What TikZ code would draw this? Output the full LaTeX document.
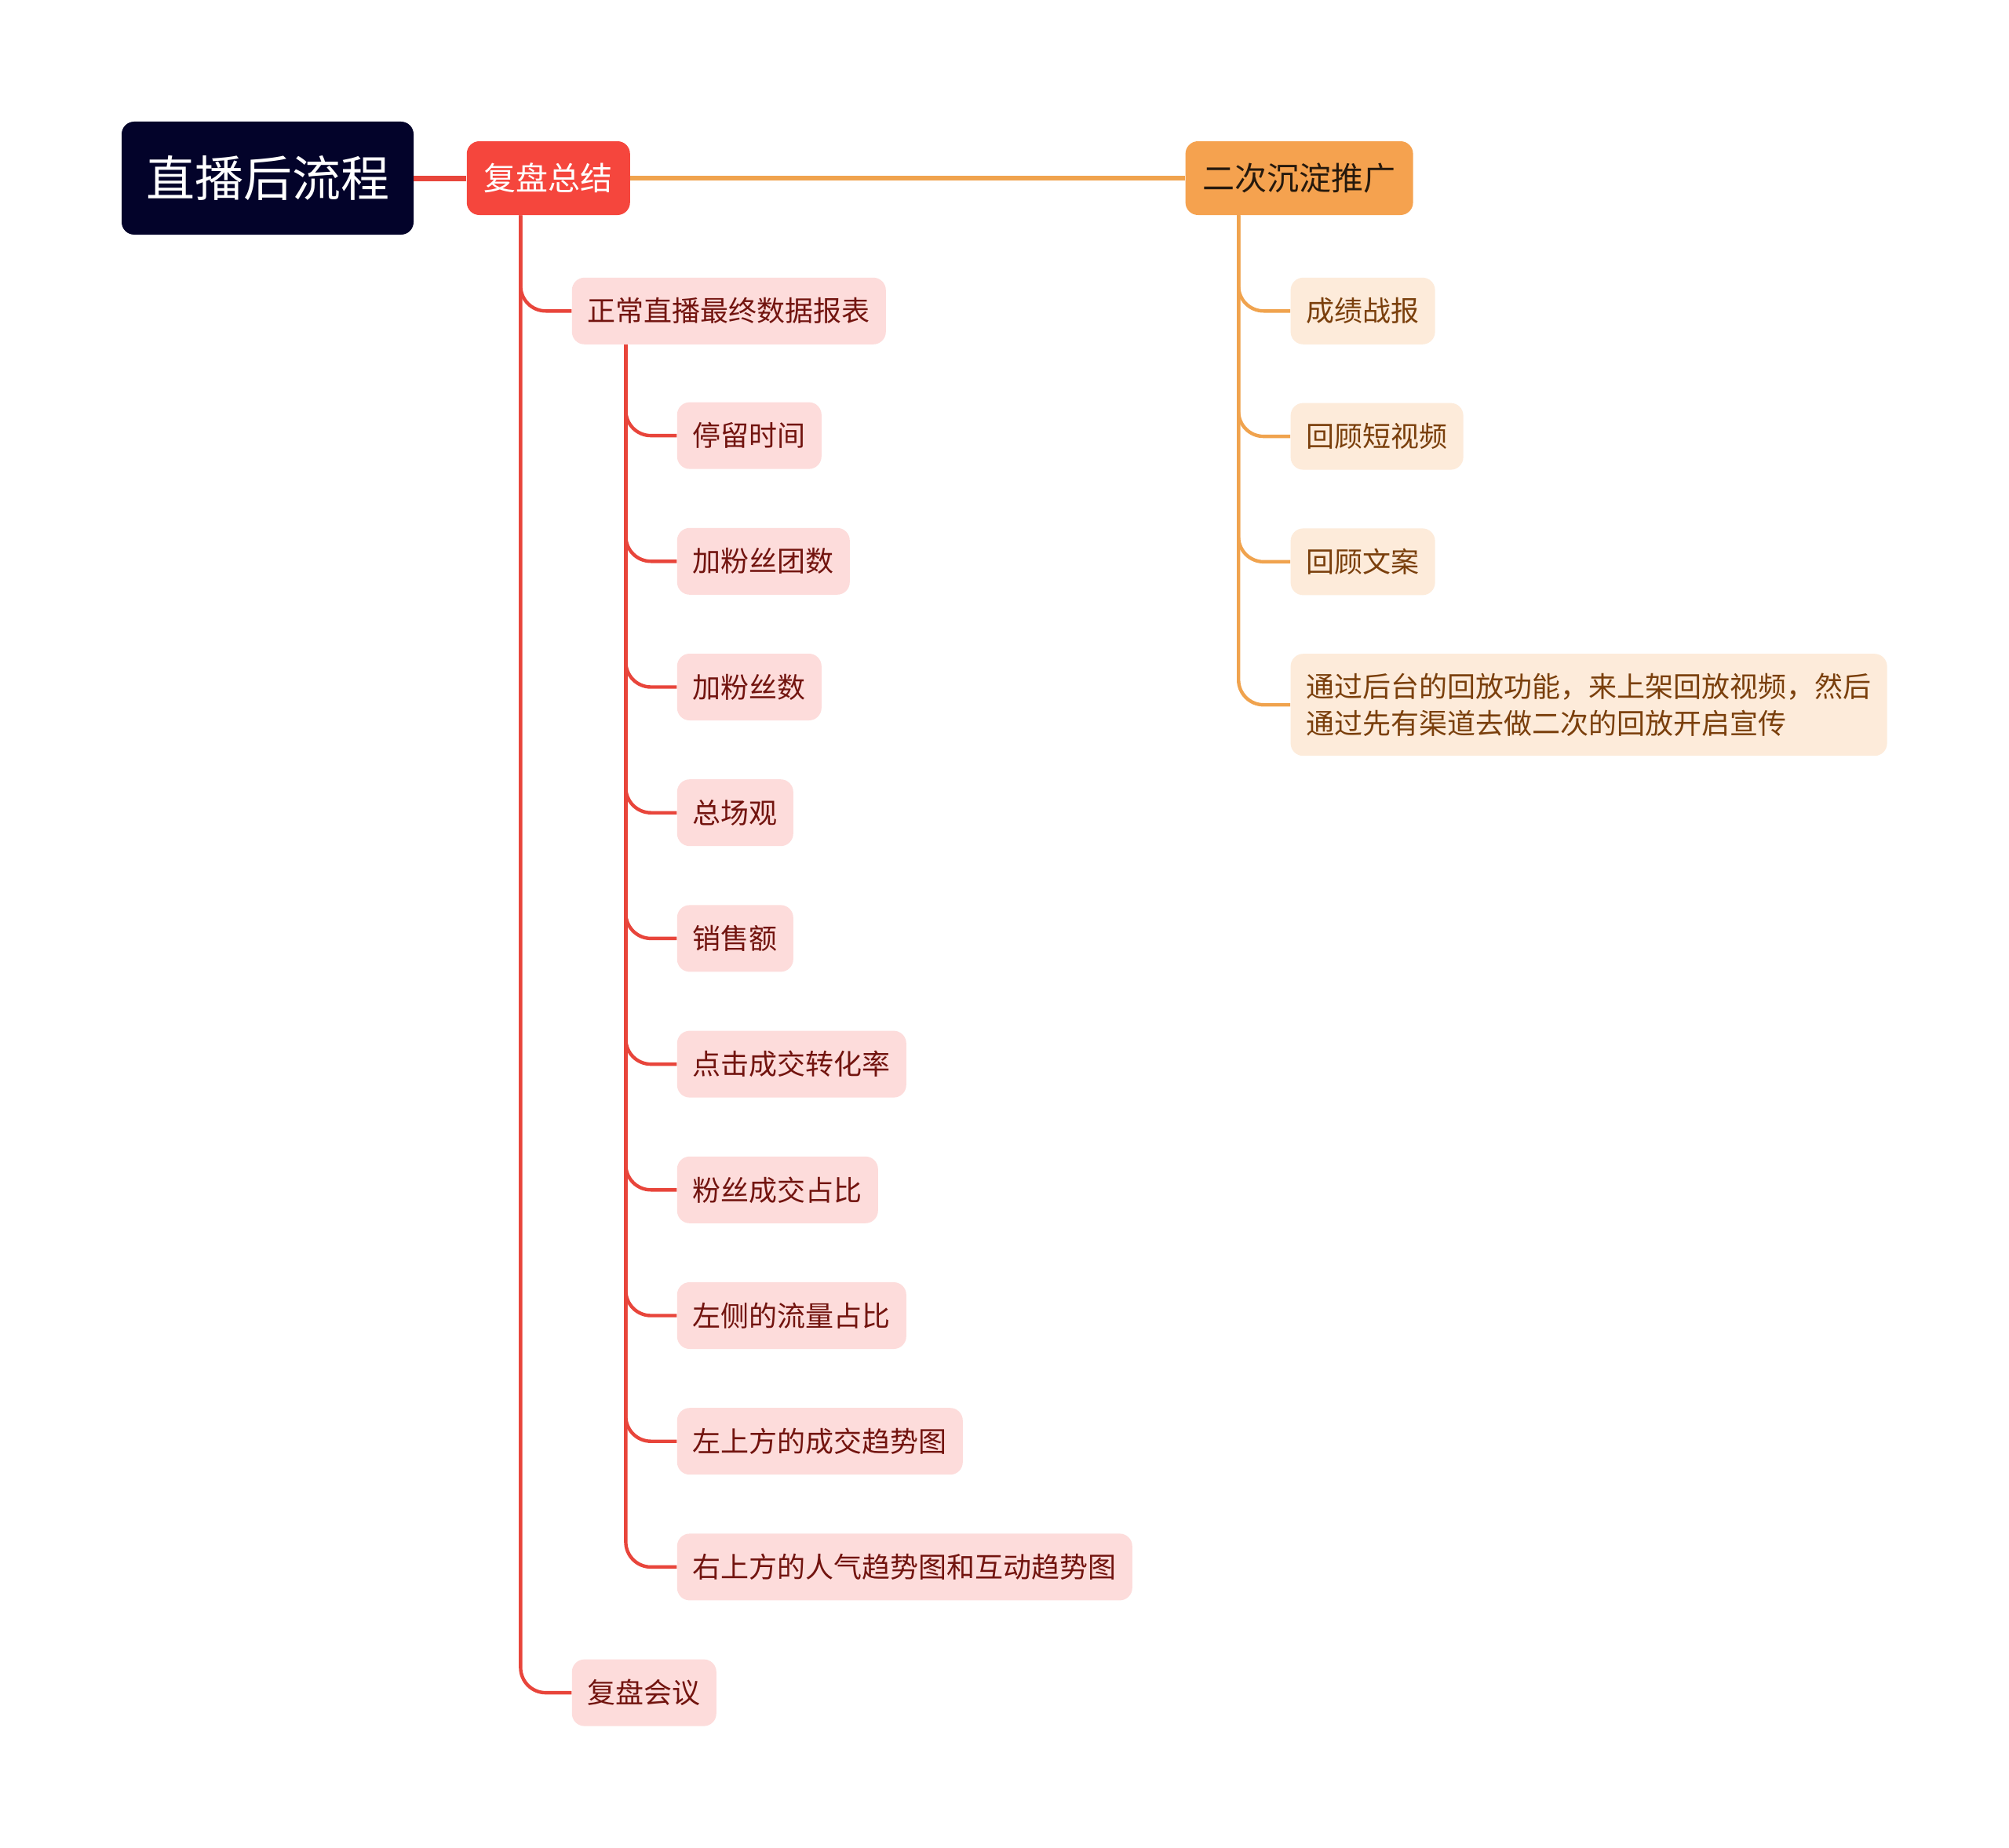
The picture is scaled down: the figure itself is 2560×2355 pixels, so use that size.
\documentclass[tikz,border=0pt]{standalone}
\usepackage{fontspec}
\setmainfont{Noto Sans CJK SC}
\usetikzlibrary{positioning}

\definecolor{rootbg}{HTML}{03032A}
\definecolor{revred}{HTML}{F5463D}
\definecolor{redline}{HTML}{E8453B}
\definecolor{pinkbg}{HTML}{FDDCDB}
\definecolor{pinktext}{HTML}{72140F}
\definecolor{promoor}{HTML}{F5A24F}
\definecolor{orline}{HTML}{F0A34E}
\definecolor{peachbg}{HTML}{FDEBDA}
\definecolor{peachtext}{HTML}{7A3F0C}

\begin{document}
\begin{tikzpicture}[
        x=0.5pt, y=-0.5pt,
        rootbox/.style = {fill=rootbg, text=white, rounded corners=8pt, minimum width=186pt, minimum height=72pt, inner sep=0pt, font=\fontsize{31}{36}\selectfont},
        topic/.style = {rounded corners=8pt, inner xsep=11pt, inner ysep=0pt, minimum height=47pt, font=\fontsize{20.5}{24}\selectfont},
        sub/.style = {rounded corners=8pt, inner xsep=10pt, inner ysep=0pt, minimum height=42.5pt, align=left, font=\fontsize{18}{23.7}\selectfont},
        redsub/.style = {sub, fill=pinkbg, text=pinktext},
        orsub/.style = {sub, fill=peachbg, text=peachtext},
        redlink/.style = {draw=redline, line width=2.2pt, rounded corners=16pt},
        orlink/.style = {draw=orline, line width=2.2pt, rounded corners=16pt}
    ]

        \fill[white] (0,0) rectangle (2560,2355);
        \useasboundingbox (0,0) rectangle (2560,2355);

        \node[rootbox] (root) at (341,227) {直播后流程};
        \node[topic, fill=revred, text=white] (rev) [right=33.5pt of root] {复盘总结};
        \node[topic, fill=promoor, text=black!80!brown] (promo) [right=353.5pt of rev] {二次沉淀推广};

        \node[redsub] (report) [below right=39.5pt and 67pt of rev.south west] {正常直播最终数据报表};
        \node[redsub] (c1) [below right=36.5pt and 67pt of report.south west] {停留时间};
        \node[redsub] (c2) [below=37.2pt of c1.south west, anchor=north west] {加粉丝团数};
        \node[redsub] (c3) [below=37.2pt of c2.south west, anchor=north west] {加粉丝数};
        \node[redsub] (c4) [below=37.2pt of c3.south west, anchor=north west] {总场观};
        \node[redsub] (c5) [below=37.2pt of c4.south west, anchor=north west] {销售额};
        \node[redsub] (c6) [below=37.2pt of c5.south west, anchor=north west] {点击成交转化率};
        \node[redsub] (c7) [below=37.2pt of c6.south west, anchor=north west] {粉丝成交占比};
        \node[redsub] (c8) [below=37.2pt of c7.south west, anchor=north west] {左侧的流量占比};
        \node[redsub] (c9) [below=37.2pt of c8.south west, anchor=north west] {左上方的成交趋势图};
        \node[redsub] (c10) [below=37.2pt of c9.south west, anchor=north west] {右上方的人气趋势图和互动趋势图};
        \node[redsub] (meet) [below=37.2pt of c10.south west, anchor=north west, xshift=-67pt] {复盘会议};

        \node[orsub] (p1) [below right=39.5pt and 67pt of promo.south west] {成绩战报};
        \node[orsub] (p2) [below=37pt of p1.south west, anchor=north west] {回顾短视频};
        \node[orsub] (p3) [below=37pt of p2.south west, anchor=north west] {回顾文案};
        \node[orsub, minimum height=65pt] (p4) [below=37pt of p3.south west, anchor=north west] {通过后台的回放功能，来上架回放视频，然后\\通过先有渠道去做二次的回放开启宣传};

        \draw[redline, line width=3.5pt] (root) -- (rev);
        \draw[orline, line width=3pt] (rev) -- (promo);

        \draw[redlink] ([xshift=34.5pt]rev.south west) |- (report.west);
        \draw[redlink] ([xshift=34.5pt]rev.south west) |- (meet.west);
        \foreach \c in {c1,c2,c3,c4,c5,c6,c7,c8,c9,c10}
            \draw[redlink] ([xshift=34.5pt]report.south west) |- (\c.west);
        \foreach \p in {p1,p2,p3,p4}
            \draw[orlink] ([xshift=34pt]promo.south west) |- (\p.west);

    \end{tikzpicture}
\end{document}
